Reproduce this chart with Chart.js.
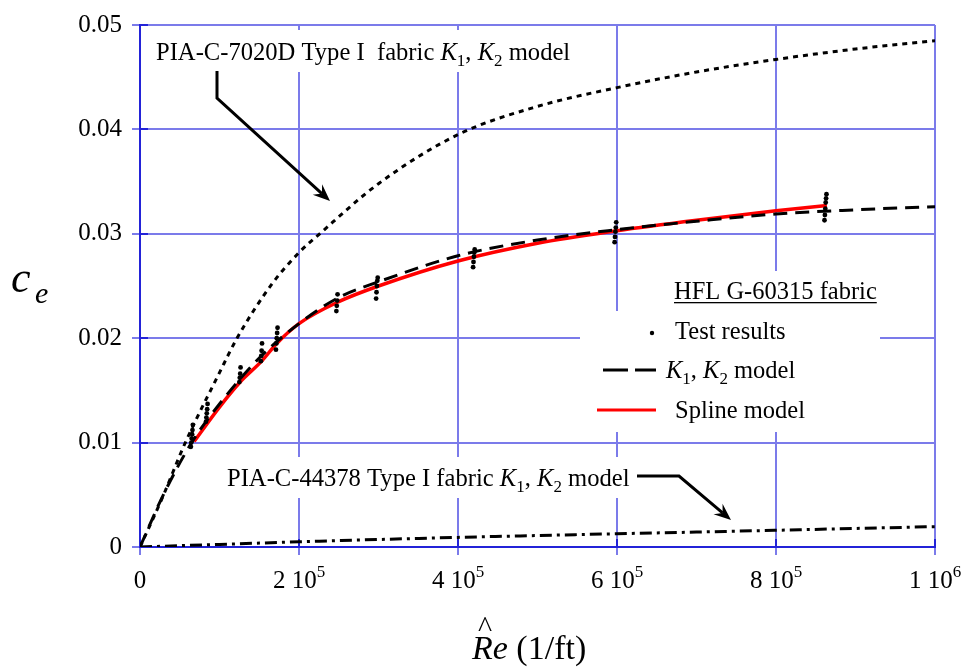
<!DOCTYPE html>
<html><head><meta charset="utf-8">
<script src="https://cdn.jsdelivr.net/npm/chart.js@4.4.1/dist/chart.umd.min.js"></script>
<style>html,body{margin:0;padding:0;background:#fff;} #wrap{width:967px;height:668px;position:relative;}</style>
</head><body><div id="wrap"><canvas id="c" width="967" height="668"></canvas></div>
<script>
// ---------- tick labels ----------
const xTickValues = [0, 200000, 400000, 600000, 800000, 1000000];
const xTickBase = ["0", "2 10", "4 10", "6 10", "8 10", "1 10"];
const xTickExp = ["", "5", "5", "5", "5", "6"];
const yTickValues = [0, 0.01, 0.02, 0.03, 0.04, 0.05];
const yTickLabels = ["0", "0.01", "0.02", "0.03", "0.04", "0.05"];

// ---------- series ----------
// PIA-C-7020D Type I fabric, K1,K2 model (dotted)
const pia7020X = [0, 28000, 57000, 100000, 122000, 166000, 200000, 226000, 300000, 400000, 500000, 600000, 700000, 800000, 900000, 1000000];
const pia7020Y = [0, 0.0047, 0.0100, 0.0167, 0.0200, 0.0252, 0.0282, 0.0300, 0.0348, 0.0395, 0.0422, 0.0440, 0.0455, 0.0467, 0.0477, 0.0485];

// PIA-C-44378 Type I fabric, K1,K2 model (dash-dot)
const pia44378X = [0, 100000, 200000, 300000, 400000, 500000, 600000, 700000, 800000, 900000, 1000000];
const pia44378Y = [0, 0.00025, 0.0005, 0.00072, 0.00092, 0.0011, 0.00127, 0.00143, 0.0016, 0.00178, 0.00195];

// HFL G-60315 fabric, K1,K2 model (dashed)
const hflK1K2X = [0, 30000, 65000, 100000, 150000, 200000, 250000, 300000, 400000, 500000, 600000, 700000, 800000, 900000, 1000000];
const hflK1K2Y = [0, 0.0051, 0.0100, 0.0137, 0.0181, 0.0214, 0.0239, 0.0254, 0.0279, 0.0294, 0.0304, 0.0312, 0.0319, 0.0323, 0.0326];

// HFL G-60315 fabric, spline model (red)
const splineX = [68000, 100000, 126000, 153000, 172000, 200000, 250000, 300000, 400000, 500000, 600000, 700000, 800000, 864000];
const splineY = [0.0101, 0.0134, 0.0158, 0.0178, 0.0195, 0.0214, 0.0235, 0.0250, 0.0274, 0.0291, 0.0303, 0.0313, 0.0322, 0.0327];

// HFL G-60315 fabric, test results (dots)
const testX = [
  64000, 64500, 65000, 65500, 66000, 66500,
  83000, 83500, 84000, 84500, 85000,
  125000, 125500, 126000, 126500,
  152000, 152500, 153000, 153500,
  171000, 171500, 172000, 172500, 173000,
  247000, 247500, 248000, 248500,
  297000, 297500, 298000, 298500, 299000,
  419000, 419500, 420000, 420500, 421000,
  597000, 597500, 598000, 598500, 599000,
  861000, 861500, 862000, 862500, 863000, 863500
];
const testY = [
  0.0096, 0.0100, 0.0104, 0.0108, 0.0112, 0.0117,
  0.0120, 0.0124, 0.0128, 0.0132, 0.0137,
  0.0158, 0.0162, 0.0166, 0.0172,
  0.0178, 0.0183, 0.0188, 0.0195,
  0.0189, 0.0195, 0.0200, 0.0205, 0.0210,
  0.0226, 0.0231, 0.0236, 0.0242,
  0.0238, 0.0244, 0.0250, 0.0255, 0.0258,
  0.0268, 0.0273, 0.0278, 0.0282, 0.0285,
  0.0292, 0.0297, 0.0302, 0.0306, 0.0311,
  0.0313, 0.0318, 0.0324, 0.0330, 0.0334, 0.0338
];

// ---------- styling / layout constants ----------
const FONT = '"Liberation Serif", "Times New Roman", serif';
const GRID = '#7b7bea';
const AXIS = '#2323d8';
const NOTE = 24.6;

const toXY = (xs, ys) => xs.map((x, i) => ({ x: x, y: ys[i] }));

function drawRich(ctx, x, y, parts, size) {
  for (const p of parts) {
    const s = p.sub ? Math.round(size * 0.7) : size;
    ctx.font = (p.i ? 'italic ' : '') + s + 'px ' + FONT;
    const dy = p.sub ? Math.round(size * 0.25) : 0;
    ctx.fillText(p.t, x, y + dy);
    x += ctx.measureText(p.t).width;
  }
  return x;
}
function richWidth(ctx, parts, size) {
  let w = 0;
  for (const p of parts) {
    const s = p.sub ? Math.round(size * 0.7) : size;
    ctx.font = (p.i ? 'italic ' : '') + s + 'px ' + FONT;
    w += ctx.measureText(p.t).width;
  }
  return w;
}
function arrow(ctx, pts) {
  ctx.save();
  ctx.strokeStyle = '#000'; ctx.fillStyle = '#000'; ctx.lineWidth = 3;
  ctx.lineJoin = 'miter';
  const n = pts.length;
  const [tx, ty] = pts[n - 1], [px, py] = pts[n - 2];
  const ang = Math.atan2(ty - py, tx - px);
  const L = 17, W = 7, N = 11;
  ctx.beginPath();
  ctx.moveTo(pts[0][0], pts[0][1]);
  for (let i = 1; i < n - 1; i++) ctx.lineTo(pts[i][0], pts[i][1]);
  ctx.lineTo(tx - N * Math.cos(ang), ty - N * Math.sin(ang));
  ctx.stroke();
  const c = Math.cos(ang), s = Math.sin(ang);
  ctx.beginPath();
  ctx.moveTo(tx, ty);
  ctx.lineTo(tx - L * c + W * s, ty - L * s - W * c);
  ctx.lineTo(tx - N * c, ty - N * s);
  ctx.lineTo(tx - L * c - W * s, ty - L * s + W * c);
  ctx.closePath();
  ctx.fill();
  ctx.restore();
}

const topNote = [{ t: 'PIA-C-7020D Type I  fabric ' }, { t: 'K', i: 1 }, { t: '1', sub: 1 }, { t: ', ' }, { t: 'K', i: 1 }, { t: '2', sub: 1 }, { t: ' model' }];
const botNote = [{ t: 'PIA-C-44378 Type I fabric ' }, { t: 'K', i: 1 }, { t: '1', sub: 1 }, { t: ', ' }, { t: 'K', i: 1 }, { t: '2', sub: 1 }, { t: ' model' }];
const k1k2Legend = [{ t: 'K', i: 1 }, { t: '1', sub: 1 }, { t: ', ' }, { t: 'K', i: 1 }, { t: '2', sub: 1 }, { t: ' model' }];

const deco = {
  id: 'deco',
  beforeDatasetsDraw(chart) {
    const ctx = chart.ctx;
    ctx.save();
    ctx.fillStyle = '#fff';
    // text backgrounds hiding grid
    const wTop = richWidth(ctx, topNote, NOTE);
    ctx.fillRect(150, 30, wTop + 12, 42);
    const wBot = richWidth(ctx, botNote, NOTE);
    ctx.fillRect(221, 457, wBot + 12, 41);
    ctx.fillRect(662, 271, 228, 40);
    ctx.fillRect(580, 311, 300, 121);
    // inner dark ticks along the axes
    const xs = chart.scales.x, ys = chart.scales.y, a = chart.chartArea;
    ctx.strokeStyle = AXIS; ctx.lineWidth = 2;
    ctx.beginPath();
    for (const v of yTickValues) { const p = Math.round(ys.getPixelForValue(v)); ctx.moveTo(a.left, p); ctx.lineTo(a.left + 8, p); }
    for (const v of xTickValues) { const p = Math.round(xs.getPixelForValue(v)); ctx.moveTo(p, a.bottom); ctx.lineTo(p, a.bottom - 8); }
    ctx.stroke();
    ctx.restore();
  },
  afterDatasetsDraw(chart) {
    const ctx = chart.ctx;
    const xs = chart.scales.x;
    ctx.save();
    ctx.fillStyle = '#000';
    ctx.textBaseline = 'alphabetic';
    ctx.textAlign = 'left';
    // x tick labels with superscripts
    for (let i = 0; i < xTickValues.length; i++) {
      const px = xs.getPixelForValue(xTickValues[i]);
      ctx.font = '25px ' + FONT;
      const wb = ctx.measureText(xTickBase[i]).width;
      ctx.font = '17px ' + FONT;
      const we = xTickExp[i] ? ctx.measureText(xTickExp[i]).width : 0;
      const x0 = px - (wb + we) / 2;
      ctx.font = '25px ' + FONT;
      ctx.fillText(xTickBase[i], x0, 588);
      if (xTickExp[i]) { ctx.font = '17px ' + FONT; ctx.fillText(xTickExp[i], x0 + wb, 577); }
    }
    // axis titles
    ctx.font = 'italic 44px ' + FONT;
    ctx.fillText('c', 11, 292);
    ctx.font = 'italic 30px ' + FONT;
    ctx.fillText('e', 35, 303);
    ctx.font = 'italic 34px ' + FONT;
    ctx.fillText('Re', 472, 659);
    const wRe = ctx.measureText('Re').width;
    ctx.font = '34px ' + FONT;
    ctx.fillText(' (1/ft)', 472 + wRe, 659);
    ctx.font = '30px ' + FONT;
    ctx.fillText('^', 478, 637);
    // annotations
    drawRich(ctx, 156, 60, topNote, NOTE);
    drawRich(ctx, 227, 486, botNote, NOTE);
    arrow(ctx, [[217, 71], [217, 98], [330, 201]]);
    arrow(ctx, [[637, 476], [679, 476], [731, 520]]);
    // legend
    ctx.font = '24.5px ' + FONT;
    const title = 'HFL G-60315 fabric';
    ctx.fillText(title, 674, 299);
    const tw = ctx.measureText(title).width;
    ctx.fillRect(674, 302, tw, 1.3);
    ctx.beginPath(); ctx.arc(652, 333, 2.2, 0, Math.PI * 2); ctx.fill();
    ctx.font = '24.5px ' + FONT;
    ctx.fillText('Test results', 675, 339);
    ctx.strokeStyle = '#000'; ctx.lineWidth = 3;
    ctx.beginPath(); ctx.moveTo(603, 370); ctx.lineTo(628, 370); ctx.moveTo(635, 370); ctx.lineTo(656, 370); ctx.stroke();
    drawRich(ctx, 666, 378, k1k2Legend, 24.5);
    ctx.strokeStyle = '#ff0000'; ctx.lineWidth = 3;
    ctx.beginPath(); ctx.moveTo(597, 410); ctx.lineTo(656, 410); ctx.stroke();
    ctx.font = '24.5px ' + FONT;
    ctx.fillText('Spline model', 675, 418);
    ctx.restore();
  }
};

const lineDs = (label, xs, ys, color, width, dash) => ({
  label, data: toXY(xs, ys), showLine: true, borderColor: color, backgroundColor: color,
  borderWidth: width, borderDash: dash, pointRadius: 0, pointHoverRadius: 0,
  cubicInterpolationMode: 'monotone', fill: false, borderCapStyle: 'butt'
});

new Chart(document.getElementById('c'), {
  type: 'scatter',
  data: {
    datasets: [
      { label: 'Test results', data: toXY(testX, testY), showLine: false, pointRadius: 2.4, pointBorderWidth: 0,
        pointBackgroundColor: '#000', borderColor: '#000', backgroundColor: '#000' },
      lineDs('HFL K1, K2 model', hflK1K2X, hflK1K2Y, '#000', 3, [14, 8]),
      lineDs('Spline model', splineX, splineY, '#ff0000', 3.5, []),
      lineDs('PIA-C-7020D K1, K2 model', pia7020X, pia7020Y, '#000', 3, [5, 5]),
      lineDs('PIA-C-44378 K1, K2 model', pia44378X, pia44378Y, '#000', 3, [12, 5, 3, 5])
    ]
  },
  options: {
    responsive: false, animation: false, devicePixelRatio: 1,
    layout: { padding: { top: 17, right: 32, left: 0, bottom: 0 } },
    plugins: { legend: { display: false }, tooltip: { enabled: false } },
    events: [],
    scales: {
      x: {
        type: 'linear', min: 0, max: 1000000,
        afterBuildTicks: (s) => { s.ticks = xTickValues.map(v => ({ value: v })); },
        afterFit: (s) => { s.height = 121; },
        ticks: { display: false },
        grid: { color: GRID, lineWidth: 2, drawTicks: true, tickLength: 8, tickColor: GRID },
        border: { display: true, color: AXIS, width: 2 }
      },
      y: {
        type: 'linear', min: 0, max: 0.05,
        afterBuildTicks: (s) => { s.ticks = yTickValues.map(v => ({ value: v })); },
        afterFit: (s) => { s.width = 140; },
        ticks: { color: '#000', font: { family: FONT, size: 25 }, padding: 10,
          callback: (v, i) => yTickLabels[i] },
        grid: { color: GRID, lineWidth: 2, drawTicks: true, tickLength: 8, tickColor: GRID },
        border: { display: true, color: AXIS, width: 2 }
      }
    }
  },
  plugins: [deco]
});
</script>
</body></html>
